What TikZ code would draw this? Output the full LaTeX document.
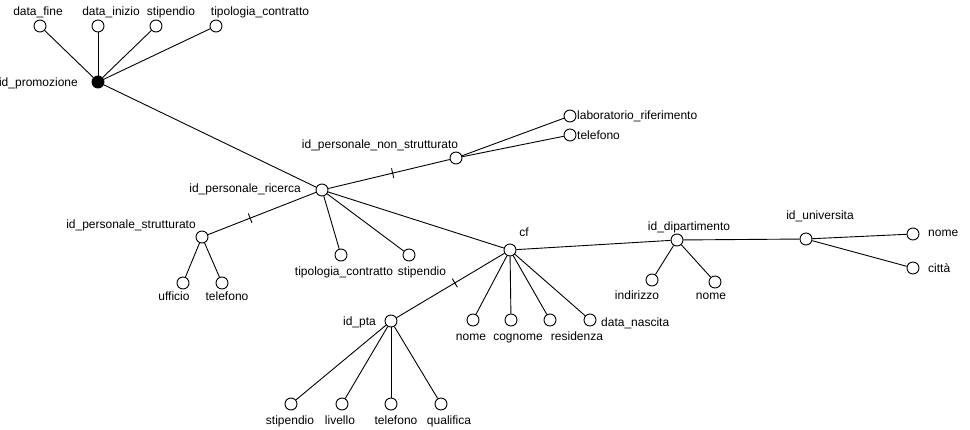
\documentclass[tikz,border=0pt]{standalone}
\usepackage{fontspec}
\setmainfont{Liberation Sans}
\begin{document}
\begin{tikzpicture}[x=1pt,y=-1pt,
  attr/.style={circle,draw,fill=white,minimum size=12pt,inner sep=0pt,line width=0.9pt},
  keyattr/.style={circle,draw,fill=black,minimum size=12pt,inner sep=0pt,line width=0.9pt},
  lbl/.style={inner sep=0pt,text height=11pt,text depth=2pt,font=\fontsize{12}{14}\selectfont},
  edge/.style={line width=0.9pt},
  tickmark/.style={sloped,draw,line width=0.9pt,inner sep=0pt,minimum width=0pt,minimum height=10pt}]
\useasboundingbox[fill=white] (0,0) rectangle (970,430);
% circles
\node[attr] (df) at (40,26) {};
\node[attr] (di) at (98,26) {};
\node[attr] (st1) at (156,26) {};
\node[attr] (tc1) at (216,26) {};
\node[keyattr] (idp) at (98,82) {};
\node[attr] (ric) at (322,190) {};
\node[attr] (nst) at (456,158) {};
\node[attr] (lab) at (570,116) {};
\node[attr] (tel1) at (570,135) {};
\node[attr] (str) at (202,237) {};
\node[attr] (uff) at (183,283) {};
\node[attr] (tel2) at (222,283) {};
\node[attr] (tc2) at (341,255) {};
\node[attr] (st2) at (409,255) {};
\node[attr] (cf) at (510,250) {};
\node[attr] (pta) at (391,321) {};
\node[attr] (st3) at (291,404) {};
\node[attr] (liv) at (342,404) {};
\node[attr] (tel3) at (391,404) {};
\node[attr] (qua) at (441,404) {};
\node[attr] (nome1) at (473,320) {};
\node[attr] (cog) at (511,320) {};
\node[attr] (res) at (550,320) {};
\node[attr] (dn) at (590,320) {};
\node[attr] (dip) at (677,240) {};
\node[attr] (ind) at (652,280) {};
\node[attr] (nome2) at (715,282) {};
\node[attr] (uni) at (806,239) {};
\node[attr] (nome3) at (913,234) {};
\node[attr] (cit) at (913,268) {};
% edges
\draw[edge] (idp) -- (df);
\draw[edge] (idp) -- (di);
\draw[edge] (idp) -- (st1);
\draw[edge] (idp) -- (tc1);
\draw[edge] (idp) -- (ric);
\draw[edge] (ric) -- node[tickmark,pos=0.53] (t1) {} (nst);
\draw[edge] (nst) -- (lab);
\draw[edge] (nst) -- (tel1);
\draw[edge] (ric) -- node[tickmark,pos=0.61] (t2) {} (str);
\draw[edge] (str) -- (uff);
\draw[edge] (str) -- (tel2);
\draw[edge] (ric) -- (tc2);
\draw[edge] (ric) -- (st2);
\draw[edge] (ric) -- (cf);
\draw[edge] (cf) -- node[tickmark,pos=0.46] (t3) {} (pta);
\draw[edge] (pta) -- (st3);
\draw[edge] (pta) -- (liv);
\draw[edge] (pta) -- (tel3);
\draw[edge] (pta) -- (qua);
\draw[edge] (cf) -- (nome1);
\draw[edge] (cf) -- (cog);
\draw[edge] (cf) -- (res);
\draw[edge] (cf) -- (dn);
\draw[edge] (cf) -- (dip);
\draw[edge] (dip) -- (ind);
\draw[edge] (dip) -- (nome2);
\draw[edge] (dip) -- (uni);
\draw[edge] (uni) -- (nome3);
\draw[edge] (uni) -- (cit);
% labels
\node[lbl] (ldf) at (38,11) {data\_fine};
\node[lbl] (ldi) at (111,11) {data\_inizio};
\node[lbl] (lst1) at (171,11) {stipendio};
\node[lbl] (ltc1) at (260,11) {tipologia\_contratto};
\node[lbl,anchor=east] (lidp) at (78,82) {id\_promozione};
\node[lbl,anchor=east] (lric) at (301,188) {id\_personale\_ricerca};
\node[lbl] (lnst) at (380,144) {id\_personale\_non\_strutturato};
\node[lbl,anchor=west] (llab) at (577,115) {laboratorio\_riferimento};
\node[lbl,anchor=west] (ltel1) at (577,135) {telefono};
\node[lbl] (lstr) at (131,224) {id\_personale\_strutturato};
\node[lbl] (luff) at (174,296) {ufficio};
\node[lbl] (ltel2) at (227,296) {telefono};
\node[lbl] (ltc2) at (344,271) {tipologia\_contratto};
\node[lbl] (lst2) at (422,271) {stipendio};
\node[lbl] (lcf) at (524,232) {cf};
\node[lbl,anchor=east] (lpta) at (376,321) {id\_pta};
\node[lbl] (lst3) at (290,420) {stipendio};
\node[lbl] (lliv) at (340,420) {livello};
\node[lbl] (ltel3) at (396,420) {telefono};
\node[lbl] (lqua) at (449,420) {qualifica};
\node[lbl] (lnome1) at (471,336) {nome};
\node[lbl] (lcog) at (518,336) {cognome};
\node[lbl] (lres) at (577,336) {residenza};
\node[lbl,anchor=west] (ldn) at (601,322) {data\_nascita};
\node[lbl] (ldip) at (689,226) {id\_dipartimento};
\node[lbl] (lind) at (637,295) {indirizzo};
\node[lbl] (lnome2) at (711,295) {nome};
\node[lbl] (luni) at (820,215) {id\_universita};
\node[lbl,anchor=west] (lnome3) at (928,232) {nome};
\node[lbl,anchor=west] (lcit) at (928,268) {città};
\end{tikzpicture}
\end{document}
